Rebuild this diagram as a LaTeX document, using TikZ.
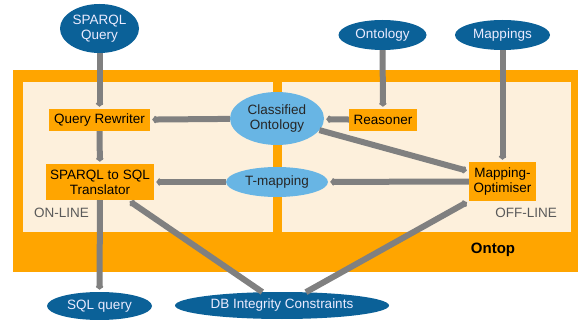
\documentclass[tikz,border=0pt]{standalone}
\usepackage{fontspec}
\setmainfont{Liberation Sans}
\usetikzlibrary{arrows.meta,shapes.geometric}
\definecolor{dblue}{RGB}{11,97,152}
\definecolor{lblue}{RGB}{104,181,228}
\definecolor{ontorange}{RGB}{255,165,0}
\definecolor{cream}{RGB}{253,240,220}
\definecolor{conngray}{RGB}{128,128,128}
\definecolor{labgray}{RGB}{90,90,90}
\tikzset{
  txt/.style={font=\fontsize{13.5}{15}\selectfont, align=center},
  darkell/.style={txt, ellipse, fill=dblue, text=white!92!blue, inner sep=0pt},
  lightell/.style={txt, ellipse, fill=lblue, text=black!85, inner sep=0pt},
  obox/.style={txt, rectangle, fill=ontorange, text=black, inner sep=0pt},
  conn/.style={draw=conngray, line width=6pt,
    -{Straight Barb[length=2.5pt,width=6.5pt,line width=1.7pt,sep=2pt]}},
  lbl/.style={font=\fontsize{13.5}{15}\selectfont, text=labgray, inner sep=0pt}
}
\begin{document}
\begin{tikzpicture}[x=1pt,y=-1pt]
\useasboundingbox (0,0) rectangle (578,320);
% background panels
\fill[ontorange] (13,70) rectangle (578,272);
\fill[cream] (23,82) rectangle (273,232);
\fill[cream] (282,82) rectangle (571,232);
% nodes
\node[darkell, minimum width=79pt, minimum height=49pt] (sq) at (99.5,28.5) {SPARQL\\Query};
\node[darkell, minimum width=88pt, minimum height=30pt] (ont) at (382.5,35) {Ontology};
\node[darkell, minimum width=95pt, minimum height=30pt] (map) at (502.5,35) {Mappings};
\node[obox, minimum width=101pt, minimum height=22pt] (qr) at (99.5,120) {Query Rewriter};
\node[lightell, minimum width=94pt, minimum height=53pt] (co) at (277,118.5) {Classified\\Ontology};
\node[obox, minimum width=68pt, minimum height=22pt] (rs) at (383,120) {Reasoner};
\node[obox, minimum width=108pt, minimum height=36pt] (tr) at (100,182) {SPARQL to SQL\\Translator};
\node[lightell, minimum width=102pt, minimum height=30pt] (tm) at (277,182) {T-mapping};
\node[obox, minimum width=67pt, minimum height=39pt] (mo) at (502.5,181.5) {Mapping-\\Optimiser};
\node[darkell, minimum width=105pt, minimum height=28pt] (sql) at (99.5,306) {SQL query};
\node[darkell, minimum width=214pt, minimum height=27pt] (db) at (282,305.5) {DB Integrity Constraints};
% labels
\node[lbl, anchor=west] (on) at (34,213) {ON-LINE};
\node[lbl, anchor=east] (off) at (557,213) {OFF-LINE};
\node[font=\fontsize{15}{17}\selectfont\bfseries, text=black, inner sep=0pt] (ontop) at (493,250) {Ontop};
% connectors
\draw[conn] (sq) -- (qr);
\draw[conn] (qr) -- (tr);
\draw[conn] (co) -- (qr);
\draw[conn] (rs) -- (co);
\draw[conn] (ont) -- (rs);
\draw[conn] (map) -- (mo);
\draw[conn] (co) -- (mo.163);
\draw[conn] (mo) -- (tm);
\draw[conn] (tm) -- (tr);
\draw[conn] (tr) -- (sql);
\draw[conn] (db) -- (tr.-33);
\draw[conn] (db) -- (mo.south west);
\end{tikzpicture}
\end{document}
